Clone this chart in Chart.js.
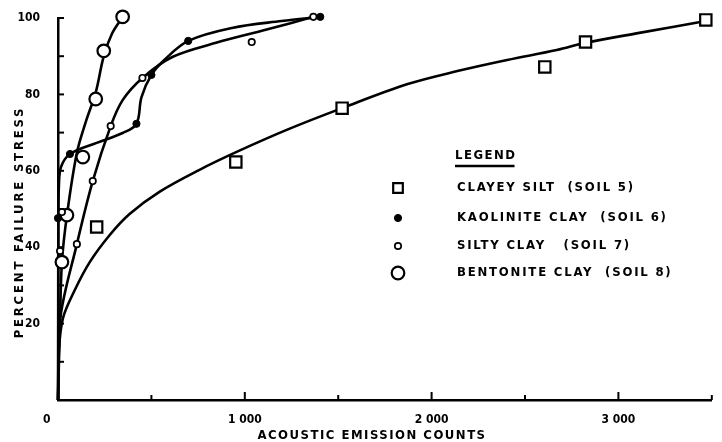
<!DOCTYPE html>
<html><head><meta charset="utf-8">
<script src="https://cdn.jsdelivr.net/npm/chart.js@4.4.0/dist/chart.umd.min.js"></script>
<style>html,body{margin:0;padding:0;background:#fff;}canvas{display:block;}</style>
</head><body>
<canvas id="c" width="722" height="442"></canvas>
<script>
// ---- text ----
const xTitle = "ACOUSTIC EMISSION COUNTS";
const yTitle = "PERCENT FAILURE STRESS";
const legendTitle = "LEGEND";
const legendLabels = ["CLAYEY SILT  (SOIL 5)", "KAOLINITE CLAY  (SOIL 6)", "SILTY CLAY   (SOIL 7)", "BENTONITE CLAY  (SOIL 8)"];
const xTickLabels = {0: "0\u2007\u2007\u2007", 1000: "1 000", 2000: "2 000", 3000: "3 000"};
const yTickLabels = {20: "20", 40: "40", 60: "60", 80: "80", 100: "100"};

// ---- measured points ----
const clayeySiltCounts = [207, 952, 1521, 2606, 2824, 3468];
const clayeySiltStress = [45.3, 62.3, 76.4, 87.2, 93.7, 99.5];
const kaoliniteCounts = [0, 64, 420, 500, 697, 1404];
const kaoliniteStress = [47.6, 64.4, 72.3, 85.1, 94.0, 100.3];
const siltyClayCounts = [11, 21, 101, 186, 282, 452, 1037, 1367];
const siltyClayStress = [39.0, 49.2, 40.8, 57.3, 71.7, 84.3, 93.7, 100.3];
const bentoniteCounts = [21, 48, 133, 202, 245, 346];
const bentoniteStress = [36.1, 48.4, 63.6, 78.8, 91.4, 100.3];

// ---- fitted curves ----
const clayeySiltCurveCounts = [0, 5, 27, 90, 170, 277, 383, 543, 755, 968, 1234, 1521, 1872, 2138, 2404, 2670, 2824, 3112, 3468];
const clayeySiltCurveStress = [0, 13.1, 21.5, 28.8, 36.1, 43.2, 48.7, 54.5, 60.2, 65.2, 70.9, 76.4, 82.7, 86.1, 89.0, 91.6, 93.5, 96.1, 99.2];
const kaoliniteCurveCounts = [0, 1, 2, 5, 16, 64, 207, 346, 420, 447, 500, 569, 697, 931, 1197, 1404];
const kaoliniteCurveStress = [0, 22, 47.6, 56.3, 61.0, 64.4, 67.3, 69.9, 72.3, 79.3, 85.1, 89.0, 94.0, 97.4, 99.2, 100.3];
const siltyClayCurveCounts = [0, 11, 101, 186, 282, 346, 452, 612, 846, 1112, 1367];
const siltyClayCurveStress = [0, 21, 40.8, 57.3, 71.7, 78.5, 84.3, 89.8, 93.5, 96.9, 100.3];
const bentoniteCurveCounts = [0, 11, 21, 48, 101, 150, 202, 245, 290, 346];
const bentoniteCurveStress = [0, 21, 36.1, 48.4, 64.7, 73.0, 80.5, 90.0, 96.0, 100.3];

const FONT = "'DejaVu Sans Condensed','DejaVu Sans',sans-serif";
const zip = (xs, ys) => xs.map((x, i) => ({x: x, y: ys[i]}));

const markerStyles = [
  {pointStyle: 'rect', radius: 8, borderWidth: 2.2, backgroundColor: '#fff'},
  {pointStyle: 'circle', radius: 3.6, borderWidth: 1, backgroundColor: '#000'},
  {pointStyle: 'circle', radius: 3.2, borderWidth: 1.7, backgroundColor: '#fff'},
  {pointStyle: 'circle', radius: 6.3, borderWidth: 2.2, backgroundColor: '#fff'}
];

function curve(xs, ys) {
  return {data: zip(xs, ys), showLine: true, pointRadius: 0, borderColor: '#000', borderWidth: 2.6, tension: 0.35, fill: false, order: 2, clip: false};
}
function points(xs, ys, i) {
  const s = markerStyles[i];
  return {label: legendLabels[i], data: zip(xs, ys), showLine: false, pointStyle: s.pointStyle, pointRadius: s.radius,
    pointBorderWidth: s.borderWidth, pointBackgroundColor: s.backgroundColor, pointBorderColor: '#000', order: 1, clip: false};
}

const inwardTicks = {
  id: 'inwardTicks',
  afterDraw(chart) {
    const ctx = chart.ctx, xs = chart.scales.x, ys = chart.scales.y;
    ctx.save();
    ctx.strokeStyle = '#000'; ctx.lineWidth = 2;
    xs.ticks.forEach(t => {
      if (t.value === 0) return;
      const px = xs.getPixelForValue(t.value);
      const len = (t.value % 1000 === 0) ? 8 : 5;
      ctx.beginPath(); ctx.moveTo(px, xs.top); ctx.lineTo(px, xs.top - len); ctx.stroke();
    });
    ys.ticks.forEach(t => {
      if (t.value === 0) return;
      const py = ys.getPixelForValue(t.value);
      ctx.beginPath(); ctx.moveTo(ys.right, py); ctx.lineTo(ys.right + 6, py); ctx.stroke();
    });
    ctx.restore();
  }
};

const annotations = {
  id: 'annotations',
  afterDraw(chart) {
    const ctx = chart.ctx;
    ctx.save();
    ctx.fillStyle = '#000'; ctx.strokeStyle = '#000';
    ctx.font = "bold 13px " + FONT;
    try { ctx.letterSpacing = '1.5px'; } catch (e) {}
    ctx.textBaseline = 'middle';
    ctx.textAlign = 'center';
    ctx.fillText(xTitle, 372, 436);
    ctx.letterSpacing = '2.8px';
    ctx.save(); ctx.translate(20, 222); ctx.rotate(-Math.PI / 2); ctx.fillText(yTitle, 0, 0); ctx.restore();
    // legend
    ctx.letterSpacing = '1.5px';
    ctx.textAlign = 'left';
    ctx.fillText(legendTitle, 455, 156);
    const w = ctx.measureText(legendTitle).width;
    ctx.lineWidth = 2.5;
    ctx.beginPath(); ctx.moveTo(455, 166); ctx.lineTo(455 + w - 2, 166); ctx.stroke();
    ctx.letterSpacing = '1.8px';
    const rows = [188, 218, 246, 273];
    legendLabels.forEach((lab, i) => {
      const s = markerStyles[i];
      const opts = {pointStyle: s.pointStyle, radius: s.radius * (i === 0 ? 0.85 : 1), borderWidth: s.borderWidth, rotation: 0};
      ctx.fillStyle = s.backgroundColor; ctx.strokeStyle = '#000'; ctx.lineWidth = s.borderWidth;
      Chart.helpers.drawPoint(ctx, opts, 398, rows[i]);
      ctx.fillStyle = '#000';
      ctx.fillText(lab, 457, rows[i]);
    });
    ctx.restore();
  }
};

new Chart(document.getElementById('c'), {
  type: 'scatter',
  data: {
    datasets: [
      curve(clayeySiltCurveCounts, clayeySiltCurveStress),
      curve(kaoliniteCurveCounts, kaoliniteCurveStress),
      curve(siltyClayCurveCounts, siltyClayCurveStress),
      curve(bentoniteCurveCounts, bentoniteCurveStress),
      points(clayeySiltCounts, clayeySiltStress, 0),
      points(kaoliniteCounts, kaoliniteStress, 1),
      points(siltyClayCounts, siltyClayStress, 2),
      points(bentoniteCounts, bentoniteStress, 3)
    ]
  },
  options: {
    responsive: false, animation: false, devicePixelRatio: 1,
    layout: {padding: {left: 0, right: 6, top: 18, bottom: 0}},
    plugins: {legend: {display: false}, tooltip: {enabled: false}},
    scales: {
      x: {
        type: 'linear', min: 0, max: 3500,
        afterFit(s) { s.height = 42; },
        grid: {display: false},
        border: {display: true, color: '#000', width: 2.5},
        ticks: {stepSize: 500, padding: 5, color: '#000', autoSkip: false, maxRotation: 0,
          font: {family: FONT, size: 12, weight: 'bold'},
          callback: v => (xTickLabels[v] !== undefined ? xTickLabels[v] : '')}
      },
      y: {
        type: 'linear', min: 0, max: 100,
        afterFit(s) { s.width = 58; },
        grid: {display: false},
        border: {display: true, color: '#000', width: 2.5},
        ticks: {stepSize: 10, padding: 10, color: '#000', autoSkip: false,
          font: {family: FONT, size: 12, weight: 'bold'},
          callback: v => (yTickLabels[v] !== undefined ? yTickLabels[v] : '')}
      }
    }
  },
  plugins: [inwardTicks, annotations]
});
</script>
</body></html>
